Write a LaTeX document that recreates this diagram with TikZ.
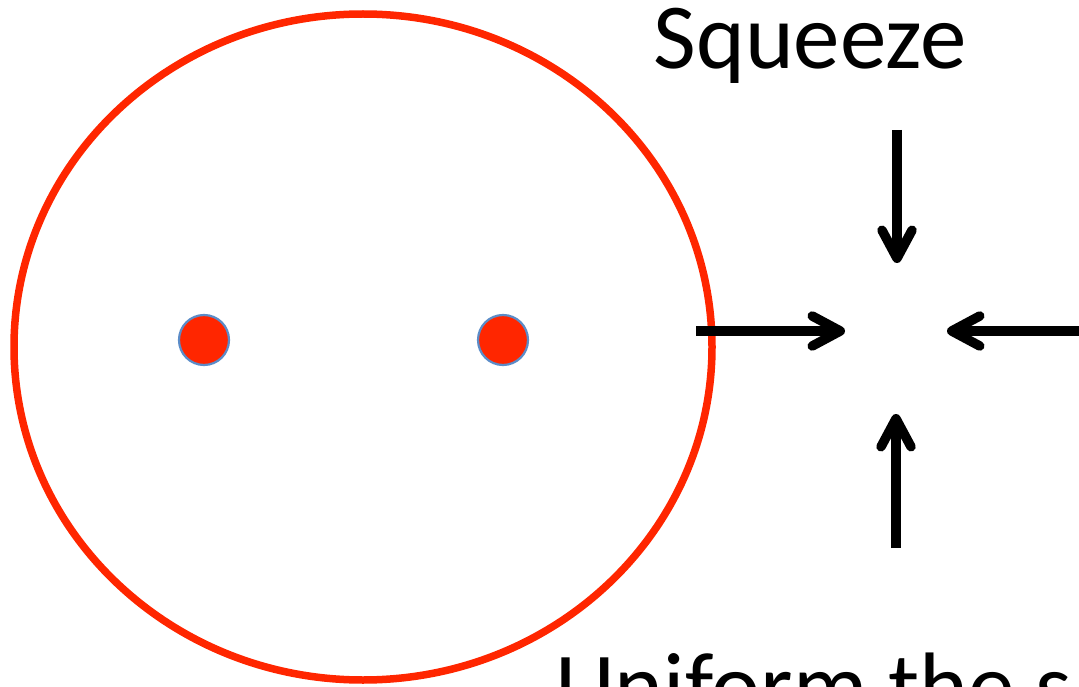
\documentclass[tikz,border=0pt]{standalone}
\usepackage{fontspec}
\setmainfont{Carlito}
\usetikzlibrary{arrows.meta}
\definecolor{ringred}{HTML}{FF2600}
\definecolor{dotedge}{HTML}{5B8CC8}
\begin{document}
\begin{tikzpicture}[x=1pt,y=-1pt,
  ring/.style={draw=ringred, line width=7.5pt},
  dot/.style={circle, fill=ringred, draw=dotedge, line width=2.2pt, minimum size=50pt, inner sep=0pt},
  push/.style={line width=9.5pt, -{Straight Barb[length=28pt,width=30pt,line cap=round,line join=round]}},
  bigtext/.style={font=\fontsize{93}{100}\selectfont, inner sep=0pt}
]
\useasboundingbox (0,0) rectangle (1079,687);
\begin{scope}
  \clip (0,0) rectangle (1079,687);
  % the ring and its two points
  \draw[ring] (363,347) ellipse [x radius=349, y radius=333];
  \node[dot] (p1) at (204,340) {};
  \node[dot] (p2) at (503,340) {};
  % four arrows pressing on the centre
  \coordinate (lt) at (696,331);
  \coordinate (lh) at (845,331);
  \coordinate (rt) at (1090,331);
  \coordinate (rh) at (947,331);
  \coordinate (tt) at (897,130);
  \coordinate (th) at (897,263);
  \coordinate (bt) at (896,548);
  \coordinate (bh) at (896,414);
  \draw[push] (lt) -- (lh);
  \draw[push] (rt) -- (rh);
  \draw[push] (tt) -- (th);
  \draw[push] (bt) -- (bh);
  % labels
  \node[bigtext, anchor=base] (sq) at (810,69) {Squeeze};
  \node[bigtext, anchor=base west] (un) at (555,717) {Uniform the s};
\end{scope}
\end{tikzpicture}
\end{document}
